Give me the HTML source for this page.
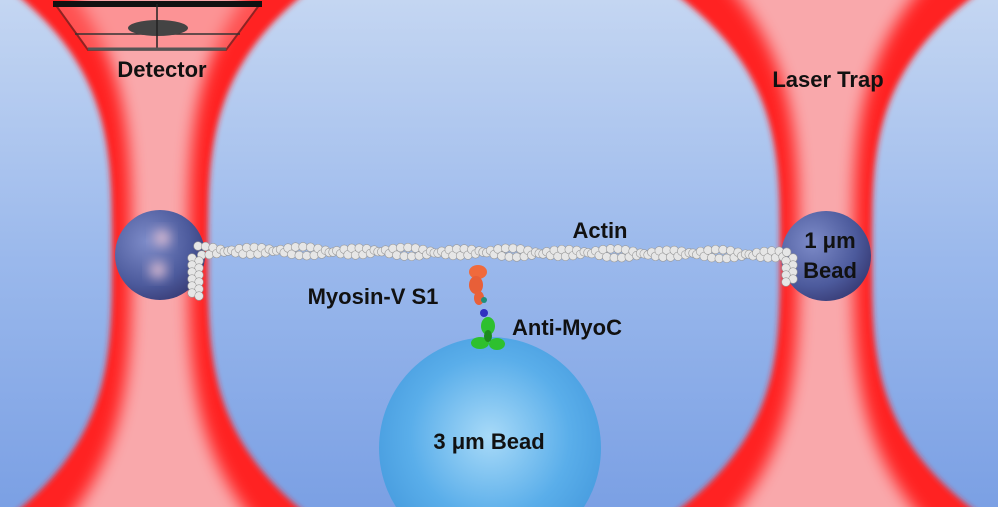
<!DOCTYPE html>
<html><head><meta charset="utf-8"><style>
html,body{margin:0;padding:0;width:998px;height:507px;overflow:hidden}
svg{display:block;overflow:hidden}
text{font-family:"Liberation Sans",sans-serif;font-weight:bold;fill:#111;font-size:22px}
</style></head><body>
<svg width="998" height="507" viewBox="0 0 998 507">
<defs>
<filter id="b4" x="-50%" y="-50%" width="200%" height="200%"><feGaussianBlur stdDeviation="3"/></filter>
<filter id="b8" x="-50%" y="-50%" width="200%" height="200%"><feGaussianBlur stdDeviation="8"/></filter>
<filter id="b6" x="-50%" y="-50%" width="200%" height="200%"><feGaussianBlur stdDeviation="6"/></filter>
<linearGradient id="blue" x1="0" y1="0" x2="0" y2="1"><stop offset="0" stop-color="#c4d6f2"/><stop offset="0.5" stop-color="#9bb9ec"/><stop offset="1" stop-color="#7ba0e4"/></linearGradient>
<radialGradient id="bead1" cx="0.35" cy="0.35" r="0.7"><stop offset="0" stop-color="#7d8bc8"/><stop offset="0.7" stop-color="#4c5a9c"/><stop offset="1" stop-color="#3a3f7a"/></radialGradient>
<radialGradient id="bead3" cx="0.5" cy="0.45" r="0.6"><stop offset="0" stop-color="#a8daf8"/><stop offset="0.6" stop-color="#5aaeea"/><stop offset="1" stop-color="#4398dc"/></radialGradient>
</defs>
<rect width="998" height="507" fill="url(#blue)"/>
<g id="beams"></g>
<g>
<path d="M55,4 L260,4 L226,50 L88,50Z" fill="#ff8080" opacity="0.5" stroke="#222" stroke-width="2"/>
<line x1="53" y1="4" x2="262" y2="4" stroke="#111" stroke-width="6"/>
<line x1="75" y1="34" x2="240" y2="34" stroke="#333" stroke-width="1.5"/>
<ellipse cx="158" cy="28" rx="30" ry="8" fill="#444"/>
<line x1="157" y1="4" x2="157" y2="50" stroke="#222" stroke-width="1.5"/>
<line x1="88" y1="49" x2="226" y2="49" stroke="#555" stroke-width="3"/>
</g>
<circle cx="160" cy="255" r="45" fill="url(#bead1)"/>
<circle cx="162" cy="238" r="8" fill="#e8c4d6" filter="url(#b6)"/>
<circle cx="158" cy="270" r="8" fill="#e8c4d6" filter="url(#b6)"/>
<circle cx="826" cy="256" r="45" fill="url(#bead1)"/>
<circle cx="490" cy="448" r="111" fill="url(#bead3)"/>
<g id="actin"></g>
<g>
<ellipse cx="478" cy="272" rx="9" ry="7" fill="#f06a3c"/>
<ellipse cx="476" cy="285" rx="7" ry="9" fill="#e85f38"/>
<ellipse cx="479" cy="298" rx="5" ry="7" fill="#e8603a"/>
<circle cx="484" cy="300" r="3" fill="#1f8f7a"/>
<circle cx="484" cy="313" r="4" fill="#3030c0"/>
</g>
<g fill="#2ec02e">
<ellipse cx="488" cy="326" rx="7" ry="9"/>
<ellipse cx="480" cy="343" rx="9" ry="6"/>
<ellipse cx="497" cy="344" rx="8" ry="6"/>
<ellipse cx="488" cy="336" rx="4" ry="6" fill="#1e8a1e"/>
</g>
<text x="162" y="77" text-anchor="middle">Detector</text>
<text x="828" y="87" text-anchor="middle">Laser Trap</text>
<text x="600" y="238" text-anchor="middle">Actin</text>
<text x="830" y="248" text-anchor="middle">1 μm</text>
<text x="830" y="278" text-anchor="middle">Bead</text>
<text x="373" y="304" text-anchor="middle">Myosin-V S1</text>
<text x="567" y="335" text-anchor="middle">Anti-MyoC</text>
<text x="489" y="449" text-anchor="middle">3 μm Bead</text>
</svg>
<script>
var ns='http://www.w3.org/2000/svg';
var beams=document.getElementById('beams');
function beamPath(cx,w0,wEnd,scale){
  var L=[],R=[];
  for(var y=-30;y<=540;y+=6){var d=Math.abs(y-253)/254;var w=(w0+(wEnd-w0)*Math.pow(d,3.3))*scale;L.push((cx-w).toFixed(1)+','+y);R.unshift((cx+w).toFixed(1)+','+y);}
  return 'M'+L.join(' L')+' L'+R.join(' L')+'Z';
}
function addBeam(cx,w0,wEnd){
  var p=document.createElementNS(ns,'path');p.setAttribute('d',beamPath(cx,w0,wEnd,1));p.setAttribute('fill','#ff2424');p.setAttribute('filter','url(#b4)');
  
  
  beams.appendChild(p);
  var q=document.createElementNS(ns,'path');q.setAttribute('d',beamPath(cx,w0,wEnd,0.6));q.setAttribute('fill','#f9a8ab');q.setAttribute('filter','url(#b8)');
  
  
  beams.appendChild(q);
}
addBeam(160,48,138);
addBeam(826,46,144);
var g=document.getElementById('actin');
function bead(x,y){var c=document.createElementNS(ns,'circle');c.setAttribute('cx',x);c.setAttribute('cy',y);c.setAttribute('r',4.3);c.setAttribute('fill','#e6e6e6');c.setAttribute('stroke','#999');c.setAttribute('stroke-width','0.6');


g.appendChild(c);}
for(var x=198;x<=790;x+=7.5){var p=(x-198)/52*Math.PI;var base=250+(x-198)/592*4;bead(x,base-4*Math.cos(p));bead(x+3.7,base+4*Math.cos(p)+1);}
for(var y=258;y<=296;y+=7){bead(192,y);bead(199,y+3);}
for(var y=258;y<=285;y+=7){bead(793,y);bead(786,y+3);}
</script>
</body></html>
